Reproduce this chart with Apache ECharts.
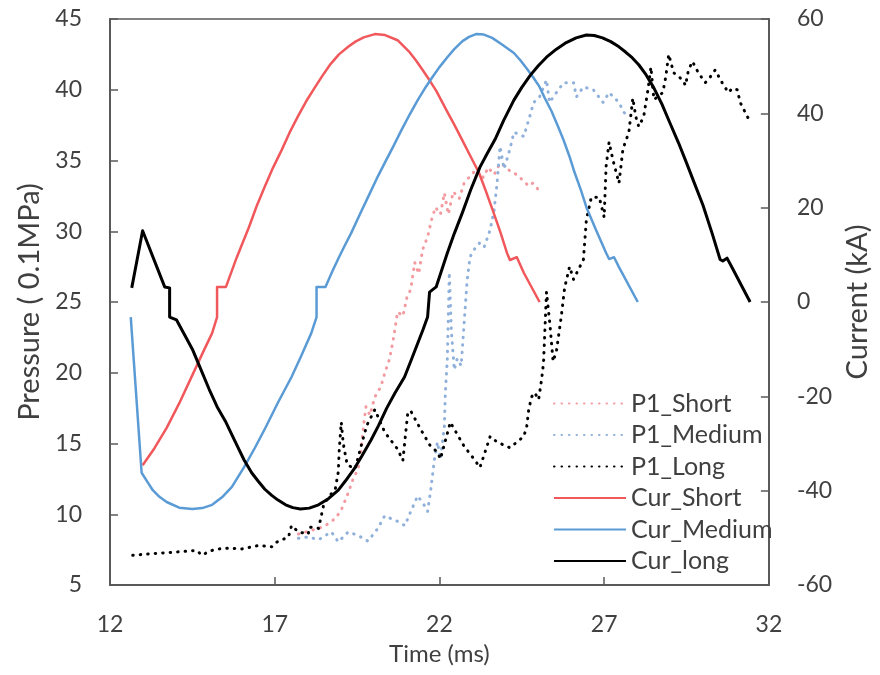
<!DOCTYPE html>
<html>
<head>
<meta charset="utf-8">
<script src="https://cdn.jsdelivr.net/npm/echarts@6/dist/echarts.min.js"></script>
<style>
  html, body { margin: 0; padding: 0; background: #ffffff; }
  #chart { width: 880px; height: 675px; }
</style>
</head>
<body>
<div id="chart"></div>
<script>
// Pressure traces (0.1 MPa) against time (ms)
const p1ShortT = [17.72, 18.02, 18.33, 18.54, 18.84, 19.02, 19.23, 19.38, 19.53, 19.62, 19.71, 19.77, 19.89, 20.04, 20.22, 20.37, 20.49, 20.61, 20.73, 20.89, 21.01, 21.13, 21.25, 21.37, 21.49, 21.64, 21.76, 21.88, 22.03, 22.15, 22.27, 22.42, 22.60, 22.75, 22.93, 23.14, 23.33, 23.48, 23.66, 23.84, 23.99, 24.17, 24.35, 24.53, 24.71, 24.83, 24.98];
const p1ShortP = [8.6, 8.8, 9.0, 9.2, 9.7, 10.3, 11.5, 12.5, 13.2, 14.5, 16.5, 17.6, 17.0, 18.3, 19.0, 20.2, 21.0, 22.5, 24.3, 24.0, 25.3, 25.9, 27.8, 27.0, 28.7, 29.6, 30.8, 31.7, 31.2, 32.7, 31.2, 32.8, 32.3, 33.4, 33.9, 34.4, 33.8, 34.5, 34.0, 34.8, 34.6, 34.2, 34.0, 33.6, 33.2, 33.4, 33.0];

const p1MediumT = [17.72, 18.02, 18.33, 18.72, 18.93, 19.23, 19.53, 19.83, 20.13, 20.34, 20.52, 20.73, 20.95, 21.13, 21.34, 21.55, 21.64, 21.73, 21.85, 21.94, 22.03, 22.15, 22.18, 22.24, 22.27, 22.30, 22.36, 22.45, 22.54, 22.66, 22.75, 22.84, 22.93, 23.05, 23.23, 23.36, 23.54, 23.66, 23.75, 23.84, 23.96, 24.14, 24.26, 24.56, 24.74, 24.86, 25.04, 25.25, 25.34, 25.55, 25.77, 26.07, 26.16, 26.37, 26.67, 26.97, 27.15, 27.45, 27.60, 27.75];
const p1MediumP = [8.3, 8.4, 8.2, 8.75, 8.05, 8.75, 8.5, 8.1, 9.0, 9.9, 9.7, 9.5, 9.2, 10.2, 11.3, 10.6, 10.2, 11.6, 13.9, 15.1, 13.9, 16.2, 18.6, 21.0, 24.0, 27.1, 23.0, 20.2, 21.0, 20.5, 23.5, 26.5, 28.2, 28.7, 29.2, 28.9, 30.1, 31.5, 33.4, 36.0, 34.4, 35.8, 37.0, 36.7, 38.1, 39.1, 39.5, 40.7, 39.1, 39.8, 40.5, 40.5, 39.5, 40.2, 40.0, 39.1, 39.8, 39.1, 38.4, 38.1];

const p1LongT = [12.69, 13.20, 13.81, 14.41, 14.62, 14.80, 15.01, 15.31, 15.61, 16.01, 16.52, 16.91, 17.03, 17.42, 17.51, 17.72, 18.02, 18.05, 18.33, 18.48, 18.63, 18.84, 18.93, 18.96, 19.02, 19.08, 19.20, 19.44, 19.62, 19.80, 20.04, 20.34, 20.73, 20.89, 21.04, 21.13, 21.43, 21.73, 21.94, 22.03, 22.33, 22.75, 23.05, 23.23, 23.54, 23.75, 24.14, 24.35, 24.56, 24.65, 24.71, 24.80, 24.89, 25.01, 25.10, 25.16, 25.25, 25.35, 25.45, 25.55, 25.70, 25.80, 25.95, 26.07, 26.37, 26.46, 26.61, 26.85, 27.00, 27.06, 27.15, 27.27, 27.45, 27.57, 27.75, 27.87, 27.96, 28.05, 28.20, 28.33, 28.42, 28.51, 28.78, 28.87, 28.96, 29.11, 29.38, 29.47, 29.56, 29.68, 29.86, 30.07, 30.22, 30.37, 30.58, 30.77, 30.89, 31.04, 31.13, 31.37];
const p1LongP = [7.1, 7.2, 7.3, 7.4, 7.45, 7.1, 7.4, 7.55, 7.6, 7.55, 7.8, 7.7, 8.0, 8.4, 9.2, 8.75, 8.6, 9.1, 9.0, 10.6, 11.2, 11.8, 13.0, 14.6, 16.5, 15.0, 13.5, 13.2, 14.8, 16.3, 17.4, 15.8, 14.6, 13.8, 17.2, 17.3, 16.0, 14.8, 14.4, 13.9, 16.5, 14.8, 13.9, 13.3, 15.5, 15.1, 14.7, 15.1, 15.5, 16.2, 17.4, 18.3, 18.6, 18.1, 19.5, 20.7, 25.7, 23.5, 20.8, 21.5, 24.0, 26.0, 27.5, 26.6, 28.0, 30.8, 32.4, 32.4, 31.0, 34.6, 36.3, 35.0, 33.4, 35.8, 37.0, 39.4, 38.1, 37.4, 38.1, 40.0, 41.6, 39.3, 39.8, 40.9, 42.5, 41.2, 40.7, 40.3, 41.4, 42.0, 41.2, 40.5, 40.9, 41.4, 40.5, 39.8, 40.1, 40.0, 39.1, 38.0];

// Discharge currents (kA) against time (ms)
const curShortT = [12.99, 13.35, 13.72, 14.10, 14.50, 14.80, 15.10, 15.25, 15.25, 15.52, 15.85, 16.22, 16.45, 16.70, 16.95, 17.21, 17.45, 17.70, 17.95, 18.23, 18.45, 18.70, 18.95, 19.23, 19.45, 19.70, 20.04, 20.35, 20.73, 21.10, 21.30, 21.49, 21.70, 21.90, 22.24, 22.45, 22.70, 22.95, 23.20, 23.40, 23.60, 23.85, 24.05, 24.14, 24.35, 24.56, 25.04];
const curShortI = [-34.6, -31.0, -26.7, -21.5, -15.5, -11.0, -6.6, -3.2, 3.2, 3.2, 9.5, 15.9, 20.3, 24.5, 28.5, 32.2, 35.9, 39.3, 42.5, 45.6, 48.0, 50.5, 52.5, 54.1, 55.2, 56.1, 56.8, 56.6, 55.5, 52.9, 51.1, 49.2, 47.0, 44.8, 40.3, 37.6, 34.2, 30.8, 27.4, 23.7, 19.8, 14.8, 10.4, 8.9, 9.5, 6.2, 0];

const curMediumT = [12.63, 12.96, 13.15, 13.30, 13.50, 13.72, 14.10, 14.50, 14.80, 15.10, 15.40, 15.70, 16.07, 16.40, 16.73, 17.10, 17.51, 17.80, 18.11, 18.27, 18.27, 18.54, 18.75, 18.95, 19.15, 19.32, 19.60, 19.85, 20.10, 20.34, 20.60, 20.85, 21.10, 21.34, 21.55, 21.80, 22.00, 22.24, 22.45, 22.70, 22.90, 23.11, 23.35, 23.60, 23.90, 24.26, 24.45, 24.65, 24.85, 25.04, 25.20, 25.40, 25.60, 25.77, 25.95, 26.10, 26.30, 26.46, 26.75, 27.06, 27.15, 27.30, 27.45, 28.02];
const curMediumI = [-3.2, -36.2, -38.3, -39.9, -41.3, -42.4, -43.6, -43.9, -43.7, -43.0, -41.4, -39.2, -35.0, -30.9, -26.5, -21.3, -15.9, -11.5, -6.6, -3.2, 3.2, 3.2, 6.5, 9.5, 12.3, 14.6, 18.8, 22.5, 26.2, 29.5, 33.0, 36.5, 39.8, 42.8, 45.2, 47.8, 49.8, 51.9, 53.6, 55.3, 56.2, 56.8, 56.7, 56.0, 54.6, 52.8, 51.3, 49.5, 47.6, 45.6, 43.2, 40.5, 37.2, 34.3, 30.8, 27.5, 23.6, 20.1, 15.3, 10.4, 9.1, 9.5, 7.4, 0];

const curLongT = [12.66, 12.99, 13.66, 13.81, 13.81, 14.02, 14.25, 14.50, 14.71, 15.01, 15.25, 15.52, 15.80, 16.07, 16.30, 16.50, 16.70, 16.91, 17.10, 17.33, 17.55, 17.78, 18.05, 18.33, 18.63, 18.93, 19.15, 19.40, 19.65, 19.92, 20.15, 20.40, 20.65, 20.94, 21.15, 21.30, 21.50, 21.64, 21.70, 21.90, 22.24, 22.45, 22.70, 22.95, 23.23, 23.45, 23.69, 23.95, 24.26, 24.50, 24.75, 25.00, 25.25, 25.55, 25.85, 26.15, 26.46, 26.70, 26.95, 27.20, 27.45, 27.65, 27.85, 28.05, 28.27, 28.50, 28.75, 29.00, 29.26, 29.50, 29.75, 30.00, 30.28, 30.52, 30.60, 30.73, 30.89, 31.43];
const curLongI = [3.0, 15.1, 3.2, 3.0, -3.2, -3.8, -6.8, -10.0, -13.5, -18.5, -22.2, -25.5, -29.6, -33.5, -36.2, -38.0, -39.7, -41.0, -42.0, -43.0, -43.6, -43.9, -43.7, -43.0, -41.7, -39.9, -37.9, -35.5, -32.6, -29.3, -26.2, -22.5, -19.3, -15.9, -12.2, -9.5, -5.9, -3.2, 2.1, 3.2, 10.4, 14.5, 19.0, 23.8, 28.6, 31.5, 34.5, 38.5, 42.8, 45.5, 48.0, 50.1, 51.9, 53.6, 55.0, 56.0, 56.6, 56.5, 56.0, 55.2, 54.1, 53.0, 51.8, 50.3, 48.2, 45.5, 42.0, 37.9, 33.7, 29.5, 25.0, 20.5, 14.5, 9.0, 8.7, 9.3, 7.2, 0];

// Axis ranges and tick steps
const timeRange = [12, 32, 5];
const pressureRange = [5, 45, 5];
const currentRange = [-60, 60, 20];

const zip = (xs, ys) => xs.map((x, i) => [x, ys[i]]);

const FONT = 'Lato, "Open Sans", "DejaVu Sans", sans-serif';
const TEXT = '#404040';
const AXIS = '#595959';

function dotted(name, xs, ys, color) {
  return {
    name, type: 'line', yAxisIndex: 0, data: zip(xs, ys),
    symbol: 'none', animation: false,
    lineStyle: { color, width: 3, type: [0.5, 7], cap: 'round', join: 'round' },
    itemStyle: { color }
  };
}
function solid(name, xs, ys, color, width) {
  return {
    name, type: 'line', yAxisIndex: 1, data: zip(xs, ys),
    symbol: 'none', animation: false,
    lineStyle: { color, width, type: 'solid', join: 'round' },
    itemStyle: { color }
  };
}

const chart = echarts.init(document.getElementById('chart'), null, { renderer: 'canvas' });
chart.setOption({
  backgroundColor: '#ffffff',
  animation: false,
  textStyle: { fontFamily: FONT },
  grid: {
    left: 110, right: 105, top: 19, bottom: 90,
    show: true, borderColor: AXIS, borderWidth: 1.5, backgroundColor: 'transparent'
  },
  legend: {
    orient: 'vertical',
    left: 548, top: 386,
    itemWidth: 72, itemHeight: 14, itemGap: 6.5,
    itemStyle: { color: 'transparent', borderColor: 'transparent', borderWidth: 0 },
    textStyle: { fontFamily: FONT, fontSize: 25, color: TEXT, lineHeight: 25 },
    data: ['P1_Short', 'P1_Medium', 'P1_Long', 'Cur_Short', 'Cur_Medium', 'Cur_long']
  },
  xAxis: {
    type: 'value',
    min: timeRange[0], max: timeRange[1], interval: timeRange[2],
    name: 'Time (ms)', nameLocation: 'middle', nameGap: 57,
    nameTextStyle: { fontFamily: FONT, fontSize: 24, color: TEXT },
    axisLine: { show: true, onZero: false, lineStyle: { color: AXIS, width: 2 } },
    axisTick: { show: true, inside: true, length: 8, lineStyle: { color: AXIS, width: 1.5 } },
    axisLabel: { margin: 28, fontFamily: FONT, fontSize: 23, color: TEXT },
    splitLine: { show: false }
  },
  yAxis: [
    {
      type: 'value', position: 'left',
      min: pressureRange[0], max: pressureRange[1], interval: pressureRange[2],
      name: 'Pressure ( 0.1MPa)', nameLocation: 'middle', nameRotate: 90, nameGap: 57,
      nameTextStyle: { fontFamily: FONT, fontSize: 29, color: TEXT },
      axisLine: { show: true, lineStyle: { color: AXIS, width: 2 } },
      axisTick: { show: true, inside: true, length: 8, lineStyle: { color: AXIS, width: 1.5 } },
      axisLabel: { margin: 28, fontFamily: FONT, fontSize: 23, color: TEXT },
      splitLine: { show: false }
    },
    {
      type: 'value', position: 'right',
      min: currentRange[0], max: currentRange[1], interval: currentRange[2],
      name: 'Current (kA)', nameLocation: 'middle', nameRotate: 90, nameGap: 70,
      nameTextStyle: { fontFamily: FONT, fontSize: 29, color: TEXT },
      axisLine: { show: true, lineStyle: { color: AXIS, width: 2 } },
      axisTick: { show: true, inside: true, length: 8, lineStyle: { color: AXIS, width: 1.5 } },
      axisLabel: { margin: 28, fontFamily: FONT, fontSize: 23, color: TEXT },
      splitLine: { show: false }
    }
  ],
  series: [
    dotted('P1_Short', p1ShortT, p1ShortP, '#F39AA0'),
    dotted('P1_Medium', p1MediumT, p1MediumP, '#8FB0DA'),
    dotted('P1_Long', p1LongT, p1LongP, '#000000'),
    solid('Cur_Short', curShortT, curShortI, '#F0585C', 2.5),
    solid('Cur_Medium', curMediumT, curMediumI, '#5A9BD5', 2.5),
    solid('Cur_long', curLongT, curLongI, '#000000', 3)
  ]
});
</script>
</body>
</html>
